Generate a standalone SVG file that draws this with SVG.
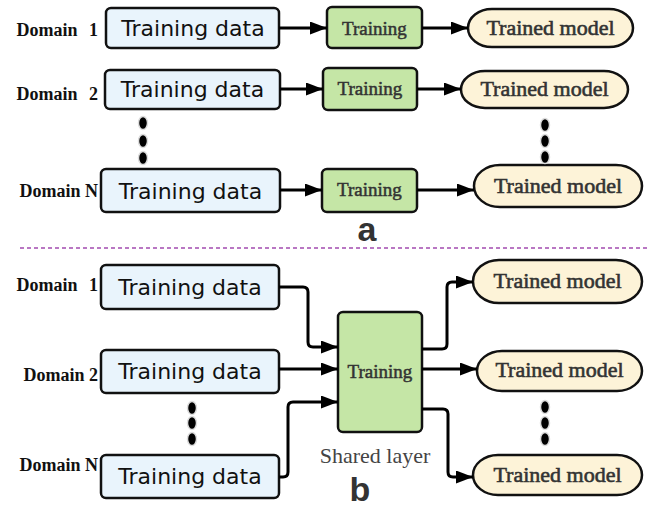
<svg xmlns="http://www.w3.org/2000/svg" width="648" height="510" viewBox="0 0 648 510">
  <style>
    .data { fill: #e9f4fc; stroke: #111; stroke-width: 2.5; }
    .train { fill: #c5e6a6; stroke: #111; stroke-width: 2.5; }
    .model { fill: #fdf3d8; stroke: #111; stroke-width: 2.5; }
    .tdata { font-family: "DejaVu Sans", sans-serif; font-size: 22px; fill: #111; text-anchor: middle; }
    .tdom { font-family: "Liberation Serif", serif; font-weight: bold; font-size: 18px; fill: #111; text-anchor: end; }
    .ttrain { font-family: "Liberation Serif", serif; font-size: 19px; fill: #333; stroke: #333; stroke-width: 0.5; text-anchor: middle; }
    .tmodel { font-family: "Liberation Serif", serif; font-size: 22px; fill: #333; stroke: #333; stroke-width: 0.6; text-anchor: middle; }
    .tpanel { font-family: "Liberation Sans", sans-serif; font-weight: bold; font-size: 34px; fill: #333; text-anchor: middle; }
    .tshared { font-family: "Liberation Serif", serif; font-size: 22px; fill: #444; text-anchor: middle; }
    .edge { fill: none; stroke: #000; stroke-width: 3; marker-end: url(#arrow); }
    .dot { fill: #000; stroke: #ddd; stroke-width: 1.5; }
  </style>
  <defs>
    <marker id="arrow" markerUnits="userSpaceOnUse" markerWidth="18" markerHeight="14" refX="17" refY="6.5" orient="auto">
      <path d="M0,0 L17,6.5 L0,13 Z" fill="#000"/>
    </marker>
  </defs>

  <rect width="648" height="510" fill="#fff"/>

  <!-- panel a: independent training per domain -->
  <g id="a-domain1">
    <text class="tdom" x="98" y="36" word-spacing="7">Domain 1</text>
    <rect class="data" x="106" y="8" width="173" height="40" rx="5"/>
    <text class="tdata" x="193" y="36">Training data</text>
  </g>
  <g id="a-train1">
    <rect class="train" x="327" y="7" width="95" height="41" rx="5"/>
    <text class="ttrain" x="374.5" y="35">Training</text>
  </g>
  <g id="a-model1">
    <rect class="model" x="468" y="9" width="165" height="38" rx="24" ry="19"/>
    <text class="tmodel" x="550.5" y="35">Trained model</text>
  </g>

  <g id="a-domain2">
    <text class="tdom" x="98" y="100" word-spacing="7">Domain 2</text>
    <rect class="data" x="105" y="70" width="175" height="39" rx="5"/>
    <text class="tdata" x="192.5" y="97">Training data</text>
  </g>
  <g id="a-train2">
    <rect class="train" x="323" y="68" width="94" height="42" rx="5"/>
    <text class="ttrain" x="370" y="95">Training</text>
  </g>
  <g id="a-model2">
    <rect class="model" x="461" y="71" width="167" height="37" rx="24" ry="18.5"/>
    <text class="tmodel" x="544.5" y="96">Trained model</text>
  </g>

  <g id="a-domainN">
    <text class="tdom" x="98" y="197">Domain N</text>
    <rect class="data" x="101" y="169" width="179" height="43" rx="5"/>
    <text class="tdata" x="190.5" y="199">Training data</text>
  </g>
  <g id="a-trainN">
    <rect class="train" x="322" y="169" width="95" height="43" rx="5"/>
    <text class="ttrain" x="369.5" y="196">Training</text>
  </g>
  <g id="a-modelN">
    <rect class="model" x="474" y="165" width="168" height="42" rx="26" ry="21"/>
    <text class="tmodel" x="558" y="193">Trained model</text>
  </g>

  <g id="a-ellipsis">
    <ellipse class="dot" cx="143" cy="123" rx="4.5" ry="6.5"/>
    <ellipse class="dot" cx="143" cy="141" rx="4.5" ry="6.5"/>
    <ellipse class="dot" cx="143" cy="158" rx="4.5" ry="6.5"/>
    <ellipse class="dot" cx="545" cy="125" rx="4.5" ry="6.5"/>
    <ellipse class="dot" cx="545" cy="141" rx="4.5" ry="6.5"/>
    <ellipse class="dot" cx="545" cy="157" rx="4.5" ry="6.5"/>
  </g>

  <text class="tpanel" x="367" y="241">a</text>

  <line x1="20" y1="248" x2="648" y2="248" stroke="#a24bb0" stroke-width="1.5" stroke-dasharray="4 3"/>

  <!-- panel b: one shared training layer -->
  <g id="b-domain1">
    <text class="tdom" x="98" y="291" word-spacing="7">Domain 1</text>
    <rect class="data" x="101" y="265" width="178" height="44" rx="5"/>
    <text class="tdata" x="190" y="295">Training data</text>
  </g>
  <g id="b-domain2">
    <text class="tdom" x="98" y="381">Domain 2</text>
    <rect class="data" x="101" y="350" width="178" height="43" rx="5"/>
    <text class="tdata" x="190" y="379">Training data</text>
  </g>
  <g id="b-domainN">
    <text class="tdom" x="98" y="471">Domain N</text>
    <rect class="data" x="101" y="455" width="178" height="43" rx="5"/>
    <text class="tdata" x="190" y="484">Training data</text>
  </g>
  <g id="b-shared">
    <rect class="train" x="338" y="312" width="84" height="120" rx="5"/>
    <text class="ttrain" x="380" y="378">Training</text>
    <text class="tshared" x="375" y="463">Shared layer</text>
  </g>
  <g id="b-model1">
    <rect class="model" x="473" y="260" width="169" height="43" rx="26" ry="21.5"/>
    <text class="tmodel" x="557.5" y="288">Trained model</text>
  </g>
  <g id="b-model2">
    <rect class="model" x="477" y="351" width="165" height="40" rx="25" ry="20"/>
    <text class="tmodel" x="559.5" y="377">Trained model</text>
  </g>
  <g id="b-modelN">
    <rect class="model" x="473" y="455" width="169" height="40" rx="25" ry="20"/>
    <text class="tmodel" x="557.5" y="482">Trained model</text>
  </g>

  <g id="b-ellipsis">
    <ellipse class="dot" cx="192" cy="408" rx="4.5" ry="6.5"/>
    <ellipse class="dot" cx="192" cy="423" rx="4.5" ry="6.5"/>
    <ellipse class="dot" cx="192" cy="439" rx="4.5" ry="6.5"/>
    <ellipse class="dot" cx="545" cy="407" rx="4.5" ry="6.5"/>
    <ellipse class="dot" cx="545" cy="423" rx="4.5" ry="6.5"/>
    <ellipse class="dot" cx="545" cy="439" rx="4.5" ry="6.5"/>
  </g>

  <text class="tpanel" x="360" y="501">b</text>

  <g id="connectors">
    <path class="edge" d="M279,28 H327"/>
    <path class="edge" d="M422,28 H468"/>
    <path class="edge" d="M280,89 H323"/>
    <path class="edge" d="M417,89 H461"/>
    <path class="edge" d="M280,190 H322"/>
    <path class="edge" d="M417,190 H474"/>

    <path class="edge" d="M279,287 H303 Q308,287 308,292 V342 Q308,347 313,347 H338"/>
    <path class="edge" d="M279,369 H338"/>
    <path class="edge" d="M279,477 H283 Q288,477 288,472 V407 Q288,402 293,402 H338"/>
    <path class="edge" d="M422,349 H442 Q447,349 447,344 V287 Q447,282 452,282 H473"/>
    <path class="edge" d="M422,369 H477"/>
    <path class="edge" d="M422,409 H443 Q448,409 448,414 V472 Q448,477 453,477 H473"/>
  </g>
</svg>
